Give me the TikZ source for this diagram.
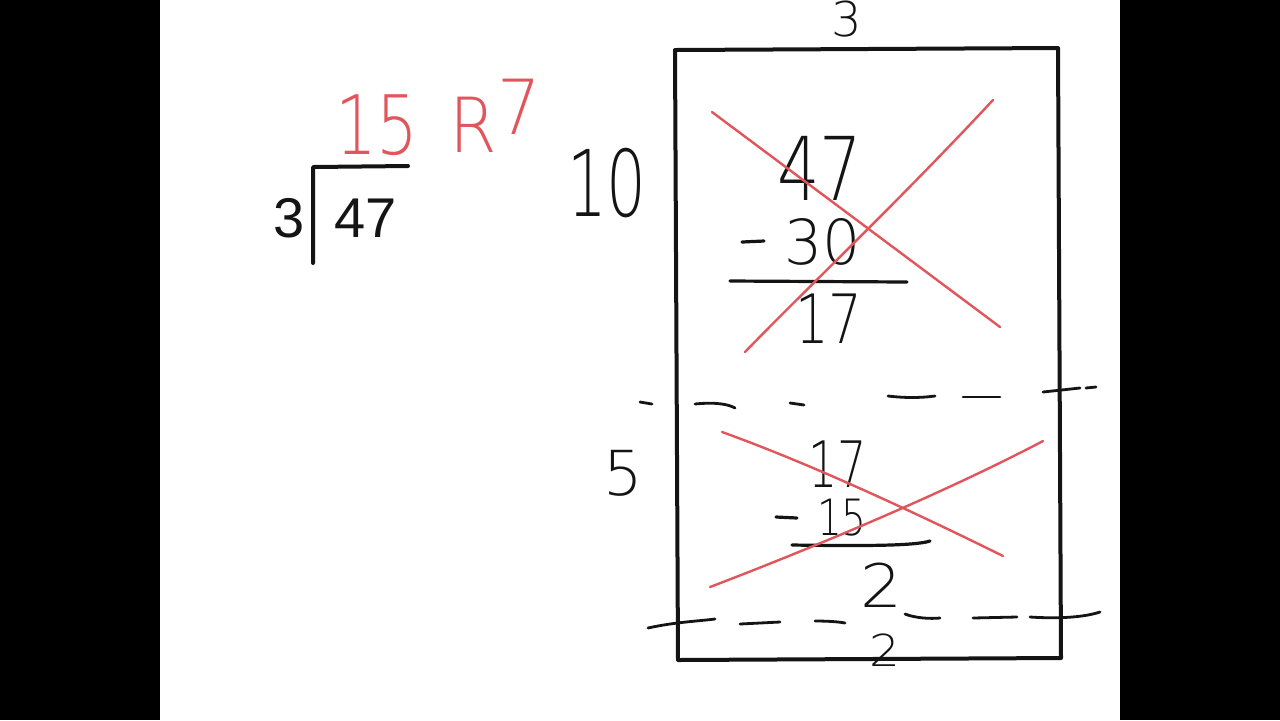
\documentclass[tikz,border=0pt]{standalone}
\usepackage{fontspec}
\setmainfont{Liberation Sans}
\IfFontExistsTF{DejaVu Sans ExtraLight}
  {\newfontfamily\hand{DejaVu Sans ExtraLight}}
  {\newfontfamily\hand{DejaVu Sans}}
\definecolor{inkred}{RGB}{224,86,92}
\definecolor{ink}{RGB}{20,20,20}
\tikzset{
  typed/.style={inner sep=0pt, text=ink, font=\fontsize{#1}{#1}\selectfont},
  hw/.style={inner sep=0pt, text=ink, font=\hand\fontsize{#1}{#1}\selectfont},
  hwred/.style={inner sep=0pt, text=inkred, font=\hand\fontsize{#1}{#1}\selectfont},
  boxline/.style={draw=ink, line width=2pt, line join=round},
  crossline/.style={draw=inkred, line width=1.2pt, line cap=round},
  dashline/.style={draw=ink, line width=1.4pt, line cap=round},
  barline/.style={draw=ink, line width=1.6pt, line cap=round}
}
\begin{document}
\begin{tikzpicture}[x=0.5pt,y=-0.5pt]
\useasboundingbox (0,0) rectangle (1280,720);
\fill[black] (0,0) rectangle (160,720);
\fill[black] (1120,0) rectangle (1280,720);
\fill[white] (160,0) rectangle (1120,720);
% long division
\node[typed=28] (d3) at (289,218) {3};
\node[typed=28] (d47) at (366,218) {47};
\draw[boxline, line cap=round] (313,263) -- (313,167) -- (408,166);
\node[hwred=41, xscale=0.8] (q15) at (377,125) {15};
\node[hwred=38, xscale=0.9] (qR7) at (495,116) {R\raisebox{9pt}{7}};
% area model box
\node[hw=24] (top3) at (847,19) {3};
\node[hw=46, xscale=0.68] (l10) at (607,183) {10};
\node[hw=31] (l5) at (623,473) {5};
% first block
\node[hw=44, xscale=0.76] (a47) at (820,168) {47};
\node[hw=31, xscale=0.97] (a30) at (823,242) {30};
\draw[barline] (742,242) -- (764,241);
\draw[barline] (730,281) -- (907,282);
\node[hw=34, xscale=0.78] (a17) at (829,319) {17};
% second block
\node[hw=32, xscale=0.72] (b17) at (838,464) {17};
\node[hw=25, xscale=0.78] (b15) at (842,518) {15};
\draw[barline] (776,517) -- (797,518);
\draw[barline] (792,545) .. controls (860,546) and (915,546) .. (930,541);
\node[hw=30, xscale=1.1] (b2) at (881,585) {2};
\node[hw=22, xscale=1.1] (c2) at (885,650) {2};
\draw[boxline] (675,50) -- (1058,48) -- (1061,658) -- (678,660) -- cycle;
% dashed separators
\draw[dashline] (640,402) -- (652,404);
\draw[dashline] (695,404) .. controls (715,402) and (728,404) .. (735,408);
\draw[dashline] (790,403) -- (804,405);
\draw[dashline] (888,396) .. controls (905,398) and (920,398) .. (935,396);
\draw[dashline] (963,397) -- (1000,397);
\draw[dashline] (1043,392) -- (1080,388);
\draw[dashline] (1086,388) -- (1096,387);
\draw[dashline] (648,628) .. controls (675,622) and (700,621) .. (715,619);
\draw[dashline] (740,624) -- (780,622);
\draw[dashline] (815,621) .. controls (830,621) and (840,622) .. (845,623);
\draw[dashline] (905,614) .. controls (915,618) and (930,619) .. (940,618);
\draw[dashline] (973,618) -- (1017,617);
\draw[dashline] (1030,617) .. controls (1060,619) and (1085,617) .. (1100,612);
% red crosses
\draw[crossline] (712,112) -- (1000,327);
\draw[crossline] (745,352) .. controls (800,295) and (900,200) .. (993,100);
\draw[crossline] (722,432) .. controls (800,460) and (900,505) .. (1003,556);
\draw[crossline] (710,587) .. controls (820,545) and (950,490) .. (1043,441);
\end{tikzpicture}
\end{document}
